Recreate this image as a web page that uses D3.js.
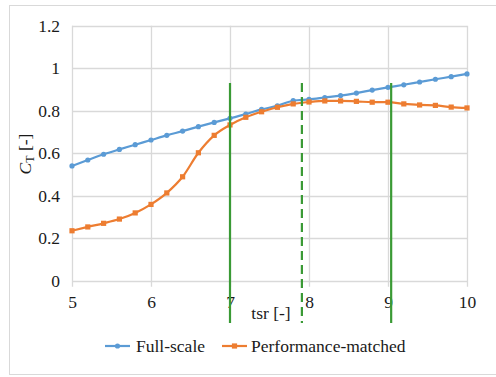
<!DOCTYPE html>
<html><head><meta charset="utf-8">
<script src="https://cdn.jsdelivr.net/npm/d3@7/dist/d3.min.js"></script>
<style>body{margin:0;background:#fff}svg{display:block}
svg text{font-family:"Liberation Serif","Times New Roman",serif !important;fill:#1a1a1a}</style>
</head><body><svg id="c" width="496" height="377"></svg>
<script>
const tsr = [5,5.2,5.4,5.6,5.8,6,6.2,6.4,6.6,6.8,7,7.2,7.4,7.6,7.8,8,8.2,8.4,8.6,8.8,9,9.2,9.4,9.6,9.8,10];
const fullScale = [0.540,0.568,0.595,0.618,0.640,0.662,0.684,0.704,0.725,0.745,0.764,0.784,0.806,0.823,0.847,0.853,0.862,0.871,0.883,0.897,0.910,0.922,0.935,0.948,0.960,0.973];
const perfMatched = [0.235,0.253,0.270,0.290,0.319,0.359,0.413,0.489,0.602,0.684,0.733,0.769,0.795,0.816,0.832,0.841,0.846,0.846,0.844,0.840,0.840,0.832,0.827,0.825,0.817,0.813];
const xTicks = [5,6,7,8,9,10];
const yTicks = [0,0.2,0.4,0.6,0.8,1,1.2];
const markers = [7.0, 7.91, 9.04];
const markerDashed = [false, true, false];
const seriesNames = ["Full-scale","Performance-matched"];
const colors = ["#5b9bd5","#ed7d31"];
const FS = 17.5;

const svg = d3.select("#c");
svg.append("rect").attr("x",9.5).attr("y",5.5).attr("width",500).attr("height",369)
  .attr("fill","#fff").attr("stroke","#d9d9d9");

const x = d3.scaleLinear().domain([5,10]).range([72,467]);
const y = d3.scaleLinear().domain([0,1.2]).range([280.7,25.7]);

const g = svg.append("g");
g.selectAll(".hg").data(yTicks).join("line")
  .attr("x1",x(5)).attr("x2",x(10)).attr("y1",d=>Math.round(y(d))+0.5).attr("y2",d=>Math.round(y(d))+0.5)
  .attr("stroke","#d9d9d9").attr("stroke-width",1.3);
g.selectAll(".vg").data(xTicks).join("line")
  .attr("x1",d=>Math.round(x(d))+0.5).attr("x2",d=>Math.round(x(d))+0.5)
  .attr("y1",y(1.2)).attr("y2",y(0)+6)
  .attr("stroke","#d9d9d9").attr("stroke-width",1.3);

const yAxis = d3.axisLeft(y).tickValues(yTicks).tickSize(0).tickPadding(12).tickFormat(d3.format("~g"));
const ya = svg.append("g").attr("transform",`translate(${x(5)},0)`).call(yAxis);
ya.select(".domain").remove();
ya.attr("font-size",FS);

const xAxis = d3.axisBottom(x).tickValues(xTicks).tickSize(0).tickPadding(15).tickFormat(d3.format("~g"));
const xa = svg.append("g").attr("transform",`translate(0,${y(0)})`).call(xAxis);
xa.select(".domain").remove();
xa.attr("font-size",FS);

const line = d3.line().x(d=>x(d[0])).y(d=>y(d[1])).curve(d3.curveMonotoneX);
const s1 = tsr.map((t,i)=>[t,fullScale[i]]);
const s2 = tsr.map((t,i)=>[t,perfMatched[i]]);
svg.append("path").datum(s1).attr("d",line).attr("fill","none").attr("stroke",colors[0]).attr("stroke-width",2.2);
svg.selectAll(".m1").data(s1).join("circle").attr("cx",d=>x(d[0])).attr("cy",d=>y(d[1])).attr("r",2.6).attr("fill",colors[0]);
svg.append("path").datum(s2).attr("d",line).attr("fill","none").attr("stroke",colors[1]).attr("stroke-width",2.2);
svg.selectAll(".m2").data(s2).join("rect").attr("x",d=>x(d[0])-2.6).attr("y",d=>y(d[1])-2.6).attr("width",5.2).attr("height",5.2).attr("fill",colors[1]);

svg.selectAll(".gl").data(markers).join("line")
  .attr("x1",d=>x(d)).attr("x2",d=>x(d)).attr("y1",83).attr("y2",323)
  .attr("stroke","#3a9a35").attr("stroke-width",2.2)
  .attr("stroke-dasharray",(d,i)=>markerDashed[i]?"9,5":null);

const yt = svg.append("text").attr("transform","translate(31,154) rotate(-90)")
  .attr("text-anchor","middle").attr("font-size",FS);
yt.append("tspan").attr("font-style","italic").text("C");
yt.append("tspan").attr("font-size",12).attr("dy",3).text("T");
yt.append("tspan").attr("dy",-3).text(" [-]");

svg.append("text").attr("x",271).attr("y",319).attr("text-anchor","middle")
  .attr("font-size",FS).text("tsr [-]");

const leg = [{x:105,tx:136},{x:222,tx:251}];
leg.forEach((l,i)=>{
  svg.append("line").attr("x1",l.x).attr("x2",l.x+25).attr("y1",346).attr("y2",346).attr("stroke",colors[i]).attr("stroke-width",2.2);
  if(i===0) svg.append("circle").attr("cx",l.x+12.5).attr("cy",346).attr("r",2.6).attr("fill",colors[i]);
  else svg.append("rect").attr("x",l.x+12.5-2.6).attr("y",343.4).attr("width",5.2).attr("height",5.2).attr("fill",colors[i]);
  svg.append("text").attr("x",l.tx).attr("y",351.5).attr("font-size",FS).text(seriesNames[i]);
});
</script></body></html>
